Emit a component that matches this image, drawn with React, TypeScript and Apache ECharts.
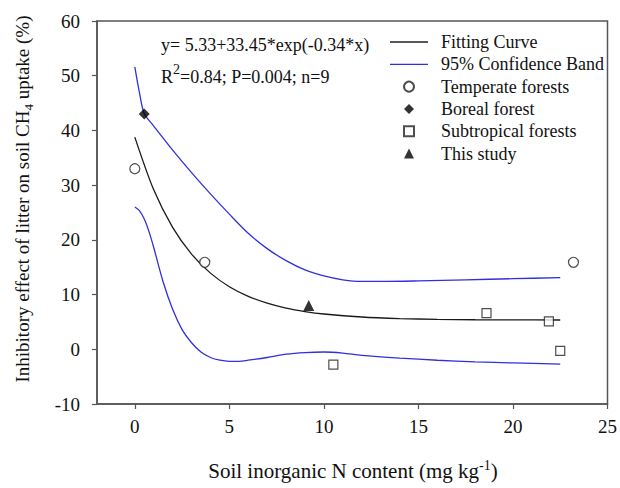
import React, { useEffect, useRef } from "react";
import * as echarts from "echarts";

// Fitted curve
const fitX = [0, 1, 2, 3, 4, 5, 6, 7, 8, 9, 10, 12, 14, 16, 18, 20, 22.5];
const fitY = [38.78, 29.14, 22.28, 17.39, 13.92, 11.44, 9.68, 8.43, 7.53, 6.9, 6.45, 5.9, 5.62, 5.48, 5.4, 5.37, 5.35];

// 95% confidence band
const upperX = [0, 0.25, 0.5, 1, 1.5, 2, 3, 4, 5, 6, 7, 8, 9, 10, 11, 12, 13, 15, 17.5, 20, 22.5];
const upperY = [51.6, 46.8, 43.1, 40.8, 38.6, 36.4, 32.3, 28.4, 24.7, 21.2, 18.4, 16.2, 14.5, 13.4, 12.7, 12.4, 12.4, 12.5, 12.7, 12.9, 13.1];
const lowerX = [0, 0.25, 0.5, 0.75, 1, 1.5, 2, 2.5, 3, 3.5, 4, 4.5, 5, 5.5, 6, 7, 8, 9, 10, 11, 12, 14, 16, 18, 20, 22.5];
const lowerY = [26.0, 25.3, 23.8, 21.5, 18.6, 12.3, 7.3, 3.6, 1.2, -0.5, -1.5, -2.0, -2.2, -2.2, -2.0, -1.5, -0.9, -0.6, -0.5, -0.7, -1.1, -1.6, -2.0, -2.3, -2.5, -2.7];

// Observations
const temperateX = [0, 3.7, 23.2];
const temperateY = [33, 15.9, 15.9];
const borealX = [0.5];
const borealY = [43];
const subtropicalX = [10.5, 18.6, 21.9, 22.5];
const subtropicalY = [-2.8, 6.6, 5.1, -0.3];
const thisStudyX = [9.2];
const thisStudyY = [8];

const xTicks = [0, 5, 10, 15, 20, 25];

const legendNames = [
  "Fitting Curve",
  "95% Confidence Band",
  "Temperate forests",
  "Boreal forest",
  "Subtropical forests",
  "This study",
];

const FONT = "Liberation Serif";
const BLUE = "#3030dc";
const FRAME = "#555555";
const INK = "#111111";

const zip = (xs: number[], ys: number[]) => xs.map((x, i) => [x, ys[i]]);

export default function App() {
  const ref = useRef<HTMLDivElement>(null);

  useEffect(() => {
    if (!ref.current) return;
    const chart = echarts.init(ref.current, undefined, { renderer: "svg" });
    const lineIcon = "path://M0,0H38V1.3H0Z";
    const option: any = {
      animation: false,
      backgroundColor: "#ffffff",
      textStyle: { fontFamily: FONT },
      grid: {
        left: 97,
        right: 11,
        top: 21,
        bottom: 84,
        show: true,
        borderColor: FRAME,
        borderWidth: 1.5,
        backgroundColor: "transparent",
      },
      xAxis: {
        type: "value",
        min: -2,
        max: 25,
        splitLine: { show: false },
        axisLine: { show: true, onZero: false, lineStyle: { color: FRAME, width: 1.5 } },
        axisTick: { show: true, length: 5, customValues: xTicks, lineStyle: { color: FRAME, width: 1.2 } },
        axisLabel: {
          customValues: xTicks,
          margin: 13,
          fontSize: 19,
          color: INK,
          fontFamily: FONT,
        },
      },
      yAxis: {
        type: "value",
        min: -10,
        max: 60,
        interval: 10,
        splitLine: { show: false },
        axisLine: { show: true, onZero: false, lineStyle: { color: FRAME, width: 1.5 } },
        axisTick: { show: true, length: 5, lineStyle: { color: FRAME, width: 1.2 } },
        axisLabel: { margin: 17, fontSize: 19, color: INK, fontFamily: FONT },
      },
      legend: {
        orient: "vertical",
        left: 390,
        top: 33,
        padding: 0,
        itemWidth: 38,
        itemHeight: 10,
        itemGap: 4.3,
        data: [
          { name: legendNames[0], icon: lineIcon, itemStyle: { color: "#222" } },
          { name: legendNames[1], icon: lineIcon, itemStyle: { color: BLUE } },
          { name: legendNames[2], icon: "circle" },
          { name: legendNames[3], icon: "path://M0.5,0L1,0.5L0.5,1L0,0.5Z" },
          { name: legendNames[4], icon: "path://M0,0H1V1H0Z" },
          { name: legendNames[5], icon: "path://M0.5,0L1,1H0Z" },
        ],
        textStyle: { fontSize: 18, color: INK, fontFamily: FONT, padding: [0, 0, 0, 8] },
      },
      graphic: [
        {
          type: "text",
          x: 161,
          y: 45,
          style: {
            text: "y= 5.33+33.45*exp(-0.34*x)",
            font: `18px ${FONT}`,
            fill: INK,
            verticalAlign: "middle",
          },
        },
        {
          type: "text",
          x: 161,
          y: 77,
          style: {
            text: "{n|R}{sup|2}{n|=0.84; P=0.004; n=9}",
            fill: INK,
            verticalAlign: "middle",
            rich: {
              n: { fontSize: 18, fontFamily: FONT, lineHeight: 30, fill: INK },
              sup: { fontSize: 14, fontFamily: FONT, lineHeight: 10, verticalAlign: "top", fill: INK },
            },
          },
        },
        {
          type: "text",
          x: 353,
          y: 471,
          style: {
            text: "{n|Soil inorganic N content (mg kg}{sup|-1}{n|)}",
            fill: INK,
            align: "center",
            verticalAlign: "middle",
            rich: {
              n: { fontSize: 21, fontFamily: FONT, lineHeight: 26, fill: INK },
              sup: { fontSize: 14, fontFamily: FONT, lineHeight: 10, verticalAlign: "top", fill: INK },
            },
          },
        },
        {
          type: "text",
          x: 22,
          y: 199,
          rotation: Math.PI / 2,
          style: {
            text: "{n|Inhibitory effect of litter on soil CH}{sub|4}{n| uptake (%)}",
            fill: INK,
            align: "center",
            verticalAlign: "middle",
            rich: {
              n: { fontSize: 19, fontFamily: FONT, lineHeight: 26, fill: INK },
              sub: { fontSize: 13, fontFamily: FONT, lineHeight: 10, verticalAlign: "bottom", fill: INK },
            },
          },
        },
      ],
      series: [
        {
          name: "Fitting Curve",
          type: "line",
          data: zip(fitX, fitY),
          smooth: 0.3,
          symbol: "none",
          lineStyle: { color: "#1a1a1a", width: 1.3 },
          itemStyle: { color: "#222" },
          z: 3,
        },
        {
          name: "95% Confidence Band",
          type: "line",
          data: zip(upperX, upperY),
          smooth: 0.3,
          symbol: "none",
          lineStyle: { color: BLUE, width: 1.3 },
          itemStyle: { color: BLUE },
          z: 2,
        },
        {
          name: "95% Confidence Band",
          type: "line",
          data: zip(lowerX, lowerY),
          smooth: 0.3,
          symbol: "none",
          lineStyle: { color: BLUE, width: 1.3 },
          itemStyle: { color: BLUE },
          z: 2,
        },
        {
          name: "Temperate forests",
          type: "scatter",
          data: zip(temperateX, temperateY),
          symbol: "circle",
          symbolSize: 10,
          itemStyle: { color: "#ffffff", borderColor: "#222", borderWidth: 1.2 },
          z: 5,
        },
        {
          name: "Boreal forest",
          type: "scatter",
          data: zip(borealX, borealY),
          symbol: "diamond",
          symbolSize: 11,
          itemStyle: { color: "#000" },
          z: 5,
        },
        {
          name: "Subtropical forests",
          type: "scatter",
          data: zip(subtropicalX, subtropicalY),
          symbol: "rect",
          symbolSize: 9,
          itemStyle: { color: "#ffffff", borderColor: "#222", borderWidth: 1.2 },
          z: 5,
        },
        {
          name: "This study",
          type: "scatter",
          data: zip(thisStudyX, thisStudyY),
          symbol: "triangle",
          symbolSize: 11,
          itemStyle: { color: "#000" },
          z: 5,
        },
      ],
    };
    chart.setOption(option);
    return () => chart.dispose();
  }, []);

  return <div ref={ref} style={{ width: 620, height: 488, position: "absolute", left: 0, top: 0 }} />;
}
